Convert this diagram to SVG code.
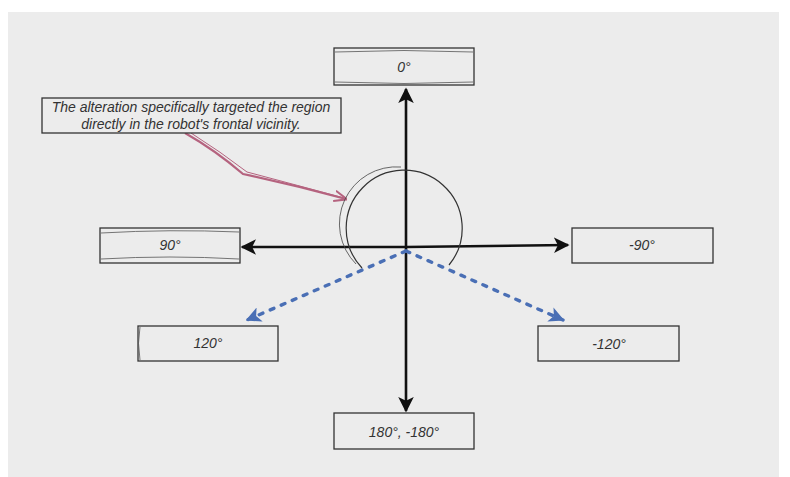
<svg xmlns="http://www.w3.org/2000/svg" width="790" height="477" viewBox="0 0 790 477">
<defs>
<style>
.box{fill:#ececec;stroke:#333;stroke-width:1.3}
.box2{fill:none;stroke:#555;stroke-width:0.8}
.lbl{font-family:"Liberation Sans",Arial,sans-serif;font-style:italic;font-size:14px;fill:#333;text-anchor:middle}
.axis{stroke:#111;stroke-width:2.6;fill:none}
.dash{stroke:#4a6fb5;stroke-width:3.4;fill:none;stroke-dasharray:4 8;stroke-linecap:round}
</style>
<marker id="ah" viewBox="0 0 10 10" refX="9" refY="5" markerWidth="6" markerHeight="6" orient="auto" markerUnits="strokeWidth">
<path d="M0,0 L10,5 L0,10 L2.5,5 Z" fill="#111"/>
</marker>
<marker id="ahb" viewBox="0 0 10 10" refX="9" refY="5" markerWidth="4.5" markerHeight="4.5" orient="auto" markerUnits="strokeWidth">
<path d="M0,0 L10,5 L0,10 L2.5,5 Z" fill="#4a6fb5"/>
</marker>
<marker id="ahp" viewBox="0 0 10 10" refX="9" refY="5" markerWidth="6" markerHeight="6" orient="auto" markerUnits="strokeWidth">
<path d="M0,1 L10,5 L0,9" fill="none" stroke="#b5637f" stroke-width="1.5"/>
</marker>
</defs>
<rect x="8" y="12" width="771" height="465" fill="#ececec"/>
<g id="connectors">
<path class="axis" d="M406,247 L406,89" marker-end="url(#ah)"/>
<path class="axis" d="M406,247 L406,411" marker-end="url(#ah)"/>
<path class="axis" d="M406,247 L242,247" marker-end="url(#ah)"/>
<path class="axis" d="M406,247 L568,245" marker-end="url(#ah)"/>
<path class="dash" d="M406,251 L247,320" marker-end="url(#ahb)"/>
<path class="dash" d="M406,251 L563,320" marker-end="url(#ahb)"/>
<path d="M185,133 Q215,150 243,174 Q295,185 346,199" fill="none" stroke="#b5637f" stroke-width="2.2" marker-end="url(#ahp)"/>
<path d="M191,133 Q221,152 247,172 Q300,186 344,198" fill="none" stroke="#b5637f" stroke-width="1"/>
</g>
<g id="circle">
<path d="M362,268 A58,58 0 1 1 449,265" fill="none" stroke="#333" stroke-width="1.2"/>
<path d="M356,264 A57,57 0 0 1 401,167" fill="none" stroke="#444" stroke-width="0.8"/>
</g>
<g id="n0">
<rect class="box" x="334" y="48" width="140" height="37"/>
<path class="box2" d="M335,52 Q404,49 473,52 M335,82 Q404,85 473,82"/>
<text class="lbl" x="404" y="72">0°</text>
</g>
<g id="n90">
<rect class="box" x="100" y="228" width="140" height="35"/>
<path class="box2" d="M101,233 Q170,229 239,232 M101,259 Q170,255 239,259"/>
<text class="lbl" x="170" y="250">90°</text>
</g>
<g id="nm90">
<rect class="box" x="572" y="228" width="141" height="35"/>
<text class="lbl" x="642" y="250">-90°</text>
</g>
<g id="n120">
<rect class="box" x="138" y="326" width="140" height="35"/>
<path class="box2" d="M140,327 Q137,343 140,360"/>
<text class="lbl" x="208" y="348">120°</text>
</g>
<g id="nm120">
<rect class="box" x="538" y="326" width="141" height="35"/>
<text class="lbl" x="609" y="349">-120°</text>
</g>
<g id="n180">
<rect class="box" x="334" y="413" width="140" height="36"/>
<text class="lbl" x="404" y="437">180°, -180°</text>
</g>
<g id="note">
<rect class="box" x="42" y="98" width="299" height="35"/>
<text class="lbl" x="191" y="112">The alteration specifically targeted the region</text>
<text class="lbl" x="191" y="129">directly in the robot's frontal vicinity.</text>
</g>
</svg>
